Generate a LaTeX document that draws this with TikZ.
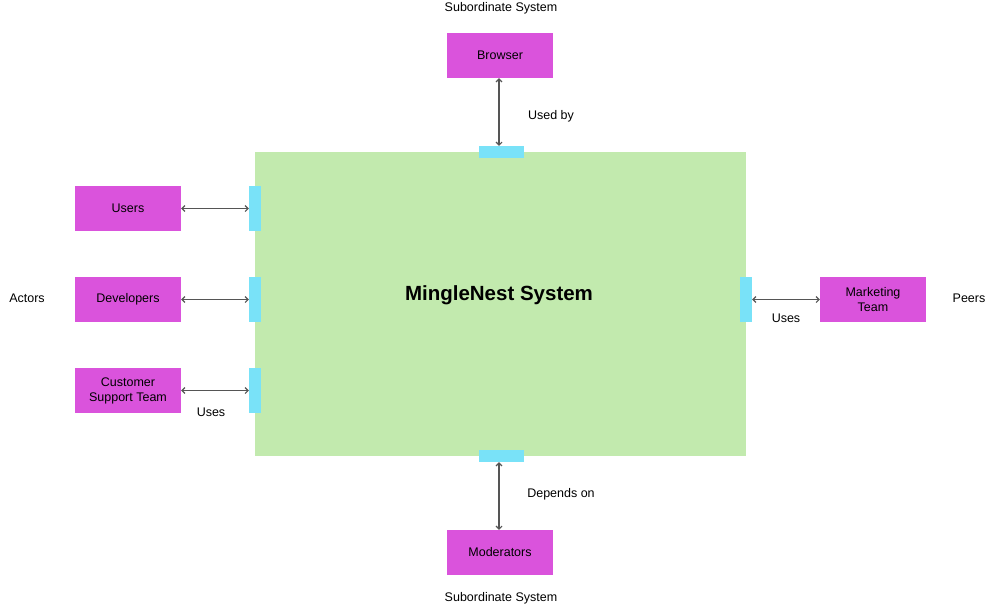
\documentclass[tikz,border=0pt]{standalone}
\usepackage{fontspec}
\setmainfont{Liberation Sans}
\usetikzlibrary{arrows.meta}
\definecolor{boxmag}{HTML}{DA53DC}
\definecolor{portcyan}{HTML}{79E2F8}
\definecolor{sysgreen}{HTML}{C2EAAE}
\definecolor{arrgray}{HTML}{555555}
\begin{document}
\begin{tikzpicture}[x=1pt,y=-1pt,
  ext/.style={fill=boxmag,draw=none,minimum width=106pt,minimum height=45pt,inner sep=0pt,align=center,font=\fontsize{12.5}{15}\selectfont},
  hport/.style={fill=portcyan,draw=none,minimum width=45pt,minimum height=12pt,inner sep=0pt},
  vport/.style={fill=portcyan,draw=none,minimum width=12pt,minimum height=45pt,inner sep=0pt},
  lbl/.style={font=\fontsize{12.5}{15}\selectfont,inner sep=0pt},
  conn/.style={draw=arrgray,line width=1.1pt,{Straight Barb[length=3pt,width=6pt]}-{Straight Barb[length=3pt,width=6pt]}}]
\useasboundingbox (0,0) rectangle (996,608);
\fill[white] (0,0) rectangle (996,608);
% main system
\node[fill=sysgreen,draw=none,minimum width=491pt,minimum height=304pt,inner sep=0pt] (sys) at (500.5,304) {};
\node[inner sep=0pt,font=\fontsize{20.5}{24}\selectfont\bfseries] (title) at (499,295.5) {MingleNest System};
% ports
\node[hport] (ptop) at (501.5,152) {};
\node[hport] (pbot) at (501.5,456) {};
\node[vport] (pl1) at (255,208.5) {};
\node[vport] (pl2) at (255,299.5) {};
\node[vport] (pl3) at (255,390.5) {};
\node[vport] (pr) at (746,299.5) {};
% external boxes
\node[ext] (browser) at (500,55.5) {Browser};
\node[ext] (moder) at (500,552.5) {Moderators};
\node[ext] (users) at (128,208.5) {Users};
\node[ext] (devs) at (128,299.5) {Developers};
\node[ext] (cst) at (128,390.5) {Customer\\Support Team};
\node[ext] (mkt) at (873,299.5) {Marketing\\Team};
% connectors
\draw[conn] (browser.south -| 499,0) -- (ptop.north -| 499,0);
\draw[conn] (pbot.south -| 499,0) -- (moder.north -| 499,0);
\draw[conn] (users.east) -- (pl1.west);
\draw[conn] (devs.east) -- (pl2.west);
\draw[conn] (cst.east) -- (pl3.west);
\draw[conn] (pr.east) -- (mkt.west);
% labels
\node[lbl] (l1) at (501,8) {Subordinate System};
\node[lbl] (l2) at (501,598) {Subordinate System};
\node[lbl] (l3) at (551,116) {Used by};
\node[lbl] (l4) at (561,494) {Depends on};
\node[lbl] (l5) at (211,412) {Uses};
\node[lbl] (l6) at (786,318) {Uses};
\node[lbl] (l7) at (27,298) {Actors};
\node[lbl] (l8) at (969,298) {Peers};
\end{tikzpicture}
\end{document}
